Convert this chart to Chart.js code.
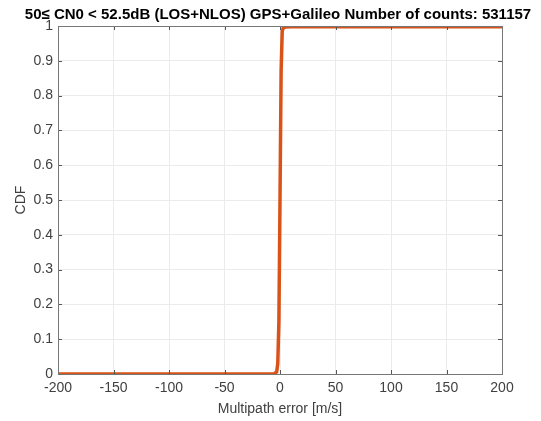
<!DOCTYPE html>
<html>
<head>
<meta charset="utf-8">
<script src="https://cdn.jsdelivr.net/npm/chart.js@4"></script>
<style>
  html, body { margin: 0; padding: 0; background: #fff; }
  #wrap { width: 541px; height: 421px; }
</style>
</head>
<body>
<div id="wrap"><canvas id="cdfChart" width="541" height="421"></canvas></div>
<script>
// CDF of multipath error
const errorValues = [-200, -50, -10, -5, -3, -2, -1, 0, 1, 2, 3, 5, 10, 50, 200];
const cdfValues = [0, 0, 0, 0.001, 0.006, 0.03, 0.15, 0.5, 0.87, 0.985, 0.995, 0.997, 0.998, 0.998, 0.998];
const xTicks = [-200, -150, -100, -50, 0, 50, 100, 150, 200];
const yTicks = [0, 0.1, 0.2, 0.3, 0.4, 0.5, 0.6, 0.7, 0.8, 0.9, 1];

const titleText = "50\u2264 CN0 < 52.5dB (LOS+NLOS) GPS+Galileo Number of counts: 531157";
const FONT = "'Liberation Sans', Arial, sans-serif";
const TEXT_COLOR = "#404040";

// Box around the plot area plus inward tick marks (MATLAB look)
const boxPlugin = {
  id: "boxPlugin",
  afterDatasetsDraw(chart) {
    const { ctx, chartArea: a, scales } = chart;
    ctx.save();
    ctx.strokeStyle = "#555";
    ctx.lineWidth = 1;
    ctx.beginPath();
    xTicks.forEach((v) => {
      const x = Math.round(scales.x.getPixelForValue(v)) + 0.5;
      ctx.moveTo(x, a.bottom);
      ctx.lineTo(x, a.bottom - 4);
      ctx.moveTo(x, a.top);
      ctx.lineTo(x, a.top + 4);
    });
    yTicks.forEach((v) => {
      const y = Math.round(scales.y.getPixelForValue(v)) + 0.5;
      ctx.moveTo(a.left, y);
      ctx.lineTo(a.left + 4, y);
      ctx.moveTo(a.right, y);
      ctx.lineTo(a.right - 4, y);
    });
    ctx.stroke();
    ctx.strokeStyle = "#777";
    ctx.strokeRect(a.left + 0.5, a.top + 0.5, a.right - a.left, a.bottom - a.top);
    ctx.restore();
  },
};

const ctx = document.getElementById("cdfChart").getContext("2d");
new Chart(ctx, {
  type: "scatter",
  data: {
    datasets: [
      {
        data: errorValues.map((x, i) => ({ x: x, y: cdfValues[i] })),
        showLine: true,
        borderColor: "#D95319",
        borderWidth: 3.5,
        pointRadius: 0,
        tension: 0,
      },
    ],
  },
  options: {
    responsive: false,
    animation: false,
    layout: { padding: { left: 15, right: 0, top: 0, bottom: 0 } },
    plugins: {
      legend: { display: false },
      tooltip: { enabled: false },
      title: {
        display: true,
        text: titleText,
        color: "#000",
        font: { family: FONT, size: 15, weight: "bold" },
        padding: { top: 6, bottom: 2 },
      },
    },
    scales: {
      x: {
        type: "linear",
        min: -200,
        max: 200,
        afterBuildTicks: (s) => { s.ticks = xTicks.map((v) => ({ value: v })); },
        afterFit: (s) => { s.height = 47; },
        grid: { color: "#ebebeb", drawTicks: false },
        border: { display: false },
        ticks: { color: TEXT_COLOR, font: { family: FONT, size: 14 }, padding: 6 },
        title: {
          display: true,
          text: "Multipath error [m/s]",
          color: TEXT_COLOR,
          font: { family: FONT, size: 14 },
          padding: { top: 4, bottom: 3 },
        },
      },
      y: {
        type: "linear",
        min: 0,
        max: 1,
        afterBuildTicks: (s) => { s.ticks = yTicks.map((v) => ({ value: v })); },
        afterFit: (s) => { s.width = 43; },
        grid: { color: "#ebebeb", drawTicks: false },
        border: { display: false },
        ticks: {
          color: TEXT_COLOR,
          font: { family: FONT, size: 14 },
          padding: 5,
          callback: (v) => String(v),
        },
        title: {
          display: true,
          text: "CDF",
          color: TEXT_COLOR,
          font: { family: FONT, size: 14 },
          padding: { top: -2, bottom: 0 },
        },
      },
      // empty right-hand margin, keeps the title centred like the original
      yRight: {
        type: "linear",
        position: "right",
        min: 0,
        max: 1,
        afterFit: (s) => { s.width = 39; },
        grid: { display: false, drawTicks: false },
        border: { display: false },
        ticks: { display: false },
      },
    },
  },
  plugins: [boxPlugin],
});
</script>
</body>
</html>
